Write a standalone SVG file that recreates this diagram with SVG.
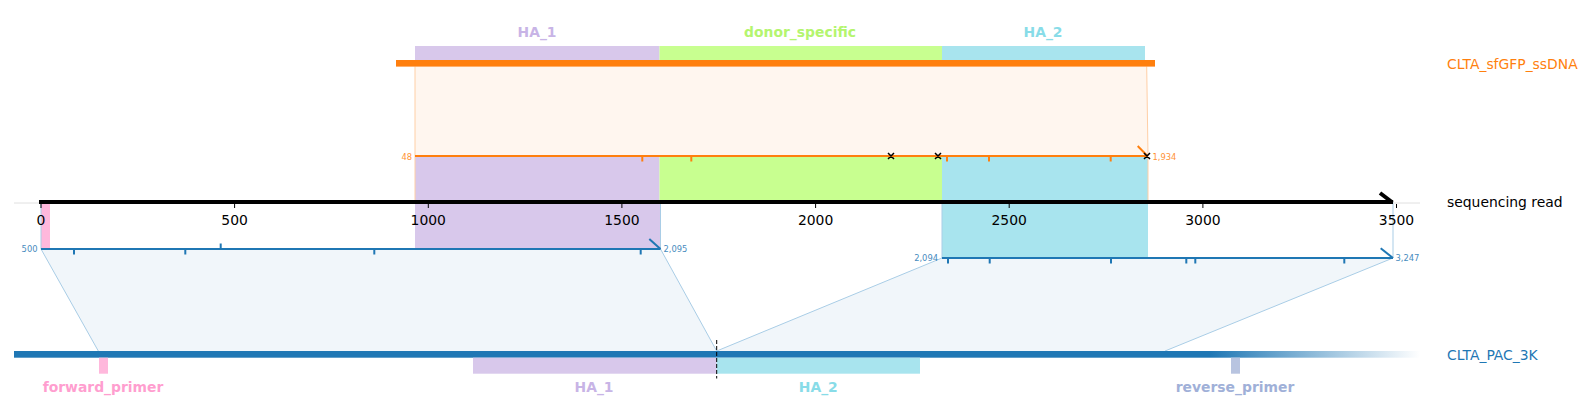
<svg xmlns="http://www.w3.org/2000/svg" width="1590" height="420" viewBox="0 0 1590 420">
<defs>
<linearGradient id="fade" gradientUnits="userSpaceOnUse" x1="1210" y1="0" x2="1420" y2="0">
<stop offset="0" stop-color="#1f77b4" stop-opacity="1"/>
<stop offset="1" stop-color="#1f77b4" stop-opacity="0"/>
</linearGradient>
</defs>
<style>
text{font-family:"DejaVu Sans","Liberation Sans",sans-serif}
.tl{font-size:13.9px;fill:#000;text-anchor:middle}
.side{font-size:13.9px}
.ft{font-size:13.9px;font-weight:bold;text-anchor:middle}
.sm{font-size:8.33px}
.or{fill:#ff7f0e}
.bl{fill:#1f77b4}
.ha1{fill:#d8c8eb}
.don{fill:#c8ff90}
.ha2{fill:#a8e4ee}
.fp{fill:#ffb8dc}
.rp{fill:#b8c4e0}
.tick{stroke:#000;stroke-width:1}
.otk{stroke:#ff7f0e;stroke-width:2}
.btk{stroke:#1f77b4;stroke-width:2}
.oedge{stroke:#ffcfa6;stroke-width:1;fill:none}
.bedge{stroke:#a9cde6;stroke-width:1;fill:none}
.xm{stroke:#000;stroke-width:1.5}
</style>
<rect width="1590" height="420" fill="#fff"/>

<g id="connectors">
<polygon points="415,66.5 1146.7,66.5 1148,156 415,156" fill="#fff6ef"/>
<polygon points="41,249 660.5,249 716.7,351 98.3,351" fill="#f1f6fa"/>
<polygon points="942,258 1393,258 1165,351 716.7,351" fill="#f1f6fa"/>
</g>

<g id="read-features">
<rect class="ha1" x="415" y="156" width="244.5" height="46"/>
<rect class="don" x="659.5" y="156" width="282.5" height="46"/>
<rect class="ha2" x="942" y="156" width="206" height="46"/>
<rect class="fp" x="41" y="202" width="9" height="47"/>
<rect class="ha1" x="415" y="202" width="245.5" height="47"/>
<rect class="ha2" x="942" y="202" width="206" height="56"/>
</g>

<g id="connector-edges">
<polyline class="oedge" points="415,66.5 415,202"/>
<polyline class="oedge" points="1146.7,66.5 1148,156 1148,202"/>
<polyline class="bedge" points="41,202 41,249 98.3,351"/>
<polyline class="bedge" points="660.5,202 660.5,249 716.7,351"/>
<polyline class="bedge" points="942,202 942,258 716.7,351"/>
<polyline class="bedge" points="1393,202 1393,258 1165,351"/>
</g>

<g id="CLTA_sfGFP_ssDNA">
<rect class="ha1" x="415" y="46" width="244.5" height="16"/>
<rect class="don" x="659.5" y="46" width="282.5" height="16"/>
<rect class="ha2" x="942" y="46" width="203" height="16"/>
<rect class="or" x="396" y="60" width="759" height="6.6"/>
<text class="ft" x="537" y="36.5" fill="#c8b4e6">HA_1</text>
<text class="ft" x="800" y="36.5" fill="#b4f56e">donor_specific</text>
<text class="ft" x="1043" y="36.5" fill="#88dce8">HA_2</text>
<text class="side or" x="1447" y="69">CLTA_sfGFP_ssDNA</text>
</g>

<g id="ssDNA-alignment">
<line x1="415" y1="156" x2="1148" y2="156" stroke="#ff7f0e" stroke-width="2"/>
<line class="otk" x1="642.3" y1="156" x2="642.3" y2="161.5"/>
<line class="otk" x1="691.3" y1="156" x2="691.3" y2="161.5"/>
<line class="otk" x1="947" y1="156" x2="947" y2="161.5"/>
<line class="otk" x1="989" y1="156" x2="989" y2="161.5"/>
<line class="otk" x1="1110.7" y1="156" x2="1110.7" y2="161.5"/>
<line class="otk" x1="1137.7" y1="146" x2="1147.5" y2="156"/>
<path class="xm" d="M888,153L894,159M888,159L894,153M935,153L941,159M935,159L941,153M1144,153L1150,159M1144,159L1150,153"/>
<text class="sm or" x="412" y="159.8" text-anchor="end" opacity="0.85">48</text>
<text class="sm or" x="1152.5" y="159.8" opacity="0.85">1,934</text>
</g>

<g id="sequencing-read">
<line x1="14" y1="203" x2="1420" y2="203" stroke="#e0e0e0" stroke-width="1"/>
<line x1="39" y1="202" x2="1393" y2="202" stroke="#000" stroke-width="4"/>
<line x1="1380" y1="193" x2="1392.5" y2="202.5" stroke="#000" stroke-width="4"/>
<line class="tick" x1="41" y1="204" x2="41" y2="208"/>
<line class="tick" x1="234.6" y1="204" x2="234.6" y2="208"/>
<line class="tick" x1="428.3" y1="204" x2="428.3" y2="208"/>
<line class="tick" x1="621.9" y1="204" x2="621.9" y2="208"/>
<line class="tick" x1="815.6" y1="204" x2="815.6" y2="208"/>
<line class="tick" x1="1009.2" y1="204" x2="1009.2" y2="208"/>
<line class="tick" x1="1202.9" y1="204" x2="1202.9" y2="208"/>
<line class="tick" x1="1396.5" y1="204" x2="1396.5" y2="208"/>
<text class="tl" x="41" y="224.5">0</text>
<text class="tl" x="234.6" y="224.5">500</text>
<text class="tl" x="428.3" y="224.5">1000</text>
<text class="tl" x="621.9" y="224.5">1500</text>
<text class="tl" x="815.6" y="224.5">2000</text>
<text class="tl" x="1009.2" y="224.5">2500</text>
<text class="tl" x="1202.9" y="224.5">3000</text>
<text class="tl" x="1396.5" y="224.5">3500</text>
<text class="side" x="1447" y="207" fill="#000">sequencing read</text>
</g>

<g id="PAC-alignment-1">
<line x1="41" y1="249" x2="660.5" y2="249" stroke="#1f77b4" stroke-width="2"/>
<line class="btk" x1="74" y1="249" x2="74" y2="254.5"/>
<line class="btk" x1="185.3" y1="249" x2="185.3" y2="254.5"/>
<line class="btk" x1="220.7" y1="243.5" x2="220.7" y2="249"/>
<line class="btk" x1="374.3" y1="249" x2="374.3" y2="254.5"/>
<line class="btk" x1="640.7" y1="249" x2="640.7" y2="254.5"/>
<line class="btk" x1="649.3" y1="239" x2="660.5" y2="249"/>
<text class="sm bl" x="37.5" y="252.3" text-anchor="end" opacity="0.85">500</text>
<text class="sm bl" x="663.5" y="252.3" opacity="0.85">2,095</text>
</g>

<g id="PAC-alignment-2">
<line x1="942" y1="258" x2="1393" y2="258" stroke="#1f77b4" stroke-width="2"/>
<line class="btk" x1="948" y1="258" x2="948" y2="263.5"/>
<line class="btk" x1="989.7" y1="258" x2="989.7" y2="263.5"/>
<line class="btk" x1="1111" y1="258" x2="1111" y2="263.5"/>
<line class="btk" x1="1186.3" y1="258" x2="1186.3" y2="263.5"/>
<line class="btk" x1="1195.3" y1="258" x2="1195.3" y2="263.5"/>
<line class="btk" x1="1344.3" y1="258" x2="1344.3" y2="263.5"/>
<line class="btk" x1="1380.7" y1="248.3" x2="1393" y2="258"/>
<text class="sm bl" x="938" y="261.3" text-anchor="end" opacity="0.85">2,094</text>
<text class="sm bl" x="1395.5" y="261.3" opacity="0.85">3,247</text>
</g>

<g id="CLTA_PAC_3K">
<rect x="14" y="351" width="1406" height="6.7" fill="url(#fade)"/>
<rect class="fp" x="99" y="357.7" width="9" height="16"/>
<rect class="ha1" x="473" y="357.7" width="243.7" height="16"/>
<rect class="ha2" x="716.7" y="357.7" width="203.3" height="16"/>
<rect class="rp" x="1231" y="357.7" width="9" height="16"/>
<line x1="716.7" y1="340" x2="716.7" y2="378.5" stroke="#000" stroke-width="1" stroke-dasharray="4,2"/>
<text class="ft" x="103" y="391.5" fill="#ff9ecf">forward_primer</text>
<text class="ft" x="594" y="391.5" fill="#c8b4e6">HA_1</text>
<text class="ft" x="818.3" y="391.5" fill="#88dce8">HA_2</text>
<text class="ft" x="1235" y="391.5" fill="#a0b0d8">reverse_primer</text>
<text class="side bl" x="1447" y="360">CLTA_PAC_3K</text>
</g>
</svg>
